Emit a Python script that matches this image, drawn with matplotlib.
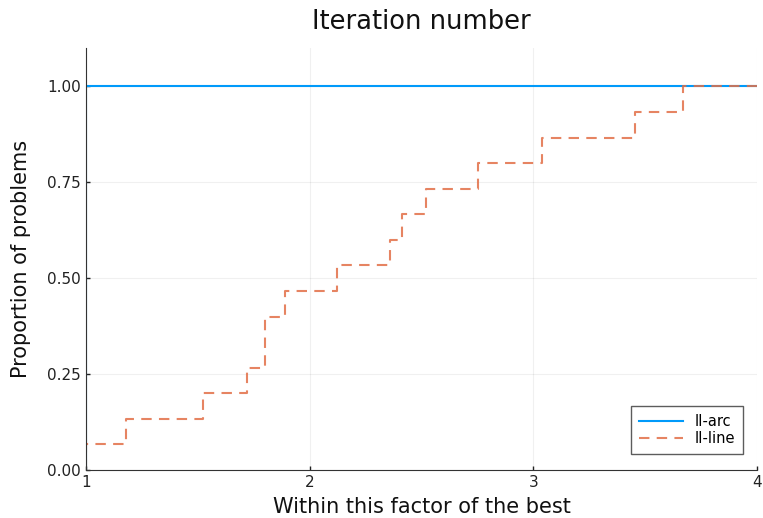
import numpy as np
import matplotlib
matplotlib.use("Agg")
import matplotlib.pyplot as plt

# --- DATA (performance ratios per problem, 15 problems) ---
SOLVERS = ["II-arc", "II-line"]
ARC_RATIOS = [1.0] * 15
LINE_RATIOS = [1.0, 1.178, 1.524, 1.72, 1.802, 1.802, 1.889, 2.121,
               2.361, 2.413, 2.521, 2.751, 3.037, 3.455, 3.667]
X_MAX = 4.0
X_TICKS = [1, 2, 3, 4]
Y_TICKS = [0.0, 0.25, 0.5, 0.75, 1.0]
Y_TICK_LABELS = ["0.00", "0.25", "0.50", "0.75", "1.00"]

COLORS = ["#009AFA", "#E26F46"]
STYLES = ["-", (0, (5, 3.5))]


def profile(ratios):
    r = np.sort(np.asarray(ratios, dtype=float))
    n = len(r)
    x = np.concatenate([[1.0], r, [X_MAX]])
    y = np.concatenate([[0.0], np.arange(1, n + 1) / n, [1.0]])
    return x, y


fig = plt.figure(figsize=(7.63, 5.18), dpi=100)
ax = fig.add_axes([86 / 763, 1 - 470 / 518, (757 - 86) / 763, (470 - 48) / 518])

for name, ratios, c, ls in zip(SOLVERS, [ARC_RATIOS, LINE_RATIOS], COLORS, STYLES):
    x, y = profile(ratios)
    ax.step(x, y, where="post", color=c, linestyle=ls, linewidth=1.5, label=name,
            alpha=0.85 if ls != "-" else 1.0)

ax.set_xlim(1, X_MAX)
ax.set_ylim(0, 1.1)
ax.set_xticks(X_TICKS)
ax.set_yticks(Y_TICKS)
ax.set_yticklabels(Y_TICK_LABELS)
ax.tick_params(direction="in", length=3, width=1, labelsize=11, colors="#222222")
ax.grid(True, color="#000000", alpha=0.06, linewidth=0.8)
for s in ["top", "right"]:
    ax.spines[s].set_visible(False)
for s in ["left", "bottom"]:
    ax.spines[s].set_color("#333333")

ax.set_title("Iteration number", fontsize=18.5, pad=14, color="#111111")
ax.set_xlabel("Within this factor of the best", fontsize=15, color="#111111", labelpad=5)
ax.set_ylabel("Proportion of problems", fontsize=15, color="#111111", labelpad=12)

leg = ax.legend(loc="lower right", fontsize=10.5, frameon=True, fancybox=False,
                edgecolor="#333333", handlelength=3.0, borderpad=0.55,
                labelspacing=0.15, bbox_to_anchor=(0.99, 0.02))
leg.get_frame().set_linewidth(1.0)

fig.savefig("out.png", dpi=100)
